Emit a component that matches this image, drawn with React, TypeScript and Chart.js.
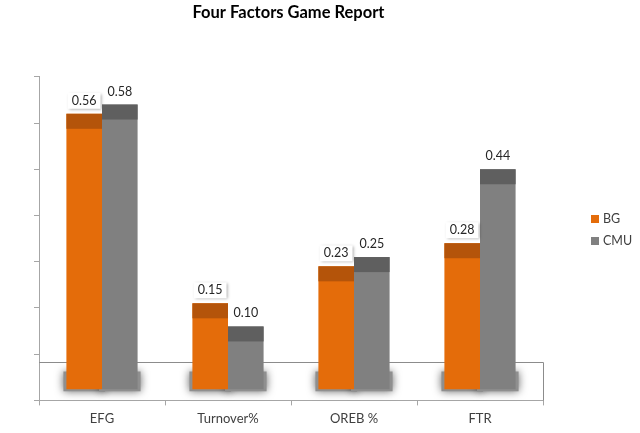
import { useEffect, useRef } from "react";
import { Chart, registerables, type Plugin } from "chart.js";

Chart.register(...registerables);

// data
const categories = ["EFG", "Turnover%", "OREB %", "FTR"];
const seriesNames = ["BG", "CMU"];
const bgValues = [0.56, 0.15, 0.23, 0.28];
const cmuValues = [0.58, 0.1, 0.25, 0.44];

const seriesColors = ["#e46c0a", "#808080"];
const capColors = ["#b4540a", "#5f5f5f"];

// axis range of the (unlabelled) value axis, and the pseudo-3D floor
const Y_MIN = -0.06;
const Y_MAX = 0.64;
const Y_STEP = 0.1;
const BAR_BASE = -0.036;
const FLOOR_VALUE = 0.022;

const FONT = "Lato, 'Open Sans', sans-serif";
const AXIS_COLOR = "#a6a6a6";

const decor: Plugin<"bar"> = {
  id: "decor",
  beforeDatasetsDraw(chart) {
    const { ctx, chartArea, scales } = chart;
    const floorY = scales.y.getPixelForValue(FLOOR_VALUE);
    ctx.save();
    // back edge of the floor
    ctx.strokeStyle = "#8c8c8c";
    ctx.lineWidth = 1;
    ctx.beginPath();
    ctx.moveTo(chartArea.left, Math.round(floorY) + 0.5);
    ctx.lineTo(Math.round(chartArea.right) + 0.5, Math.round(floorY) + 0.5);
    ctx.lineTo(Math.round(chartArea.right) + 0.5, chartArea.bottom);
    ctx.stroke();
    // soft shadows at the feet of the bars
    ctx.shadowColor = "rgba(0,0,0,0.6)";
    ctx.shadowBlur = 8;
    ctx.fillStyle = "#8f8f8f";
    chart.data.datasets.forEach((_, di) => {
      chart.getDatasetMeta(di).data.forEach((el: any) => {
        const x = el.x - el.width / 2;
        ctx.fillRect(x - 3, floorY + 9, el.width + 6, el.base - floorY - 7);
      });
    });
    ctx.restore();
  },
  afterDatasetsDraw(chart) {
    const { ctx } = chart;
    ctx.save();
    chart.data.datasets.forEach((ds, di) => {
      chart.getDatasetMeta(di).data.forEach((el: any, i) => {
        const left = el.x - el.width / 2;
        // darker top band
        ctx.fillStyle = capColors[di];
        ctx.fillRect(left, el.y, el.width, 15);
        // value label
        const raw = ds.data[i] as unknown as number[];
        const text = raw[1].toFixed(2);
        ctx.font = `12.5px ${FONT}`;
        const w = ctx.measureText(text).width;
        const cy = el.y - 13;
        if (di === 0) {
          ctx.save();
          ctx.shadowColor = "rgba(0,0,0,0.35)";
          ctx.shadowBlur = 3;
          ctx.shadowOffsetX = 1;
          ctx.shadowOffsetY = 1;
          ctx.fillStyle = "#ffffff";
          ctx.fillRect(el.x - w / 2 - 4, cy - 8, w + 8, 16);
          ctx.restore();
        }
        ctx.fillStyle = "#262626";
        ctx.textAlign = "center";
        ctx.textBaseline = "middle";
        ctx.fillText(text, el.x, cy);
      });
    });
    // legend
    ctx.font = `12.5px ${FONT}`;
    ctx.textAlign = "left";
    ctx.textBaseline = "middle";
    chart.data.datasets.forEach((ds, di) => {
      const y = 219 + di * 22;
      ctx.fillStyle = seriesColors[di];
      ctx.fillRect(591, y - 4, 8, 8);
      ctx.fillStyle = "#404040";
      ctx.fillText(String(ds.label), 603, y);
    });
    ctx.restore();
  },
};

export default function App() {
  const canvasRef = useRef<HTMLCanvasElement>(null);

  useEffect(() => {
    document.body.style.margin = "0";
    if (!canvasRef.current) return;
    const chart = new Chart(canvasRef.current, {
      type: "bar",
      data: {
        labels: categories,
        datasets: [bgValues, cmuValues].map((vals, di) => ({
          label: seriesNames[di],
          data: vals.map((v) => [BAR_BASE, v]) as any,
          backgroundColor: seriesColors[di],
          borderWidth: 0,
          barPercentage: 1,
          categoryPercentage: 0.565,
        })),
      },
      options: {
        animation: false,
        responsive: true,
        maintainAspectRatio: false,
        layout: { padding: { left: 34, right: 97, bottom: 0, top: 0 } },
        plugins: {
          legend: { display: false },
          tooltip: { enabled: false },
          title: {
            display: true,
            text: "Four Factors Game Report",
            color: "#000000",
            font: { family: FONT, size: 16.5, weight: "bold" },
            padding: { top: 3, bottom: 54 },
          },
        },
        scales: {
          x: {
            grid: { drawOnChartArea: false, tickLength: 5, color: AXIS_COLOR },
            border: { color: AXIS_COLOR },
            ticks: { color: "#404040", font: { family: FONT, size: 13 }, padding: 6 },
          },
          y: {
            min: Y_MIN,
            max: Y_MAX,
            afterBuildTicks: (axis) => {
              const ticks = [];
              for (let v = Y_MIN; v <= Y_MAX + 1e-9; v += Y_STEP) ticks.push({ value: v });
              axis.ticks = ticks;
            },
            grid: { drawOnChartArea: false, tickLength: 5, color: AXIS_COLOR },
            border: { color: AXIS_COLOR },
            ticks: { display: false },
          },
        },
      },
      plugins: [decor],
    });
    return () => chart.destroy();
  }, []);

  return (
    <div style={{ width: 640, height: 433, position: "relative" }}>
      <canvas ref={canvasRef} role="img" aria-label="Four Factors Game Report" />
    </div>
  );
}
